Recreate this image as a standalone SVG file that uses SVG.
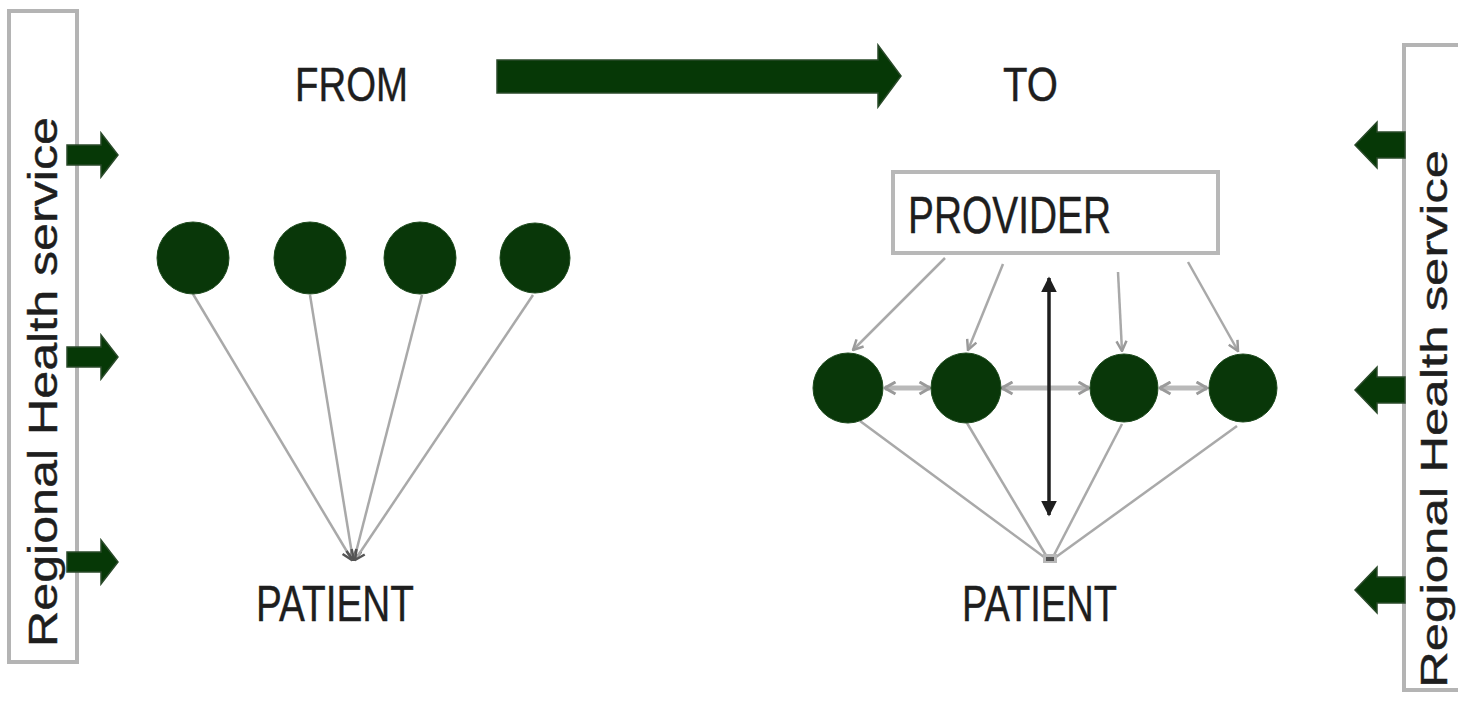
<svg xmlns="http://www.w3.org/2000/svg" width="1458" height="712" viewBox="0 0 1458 712">
  <style>
    .lbl { font-family: "Liberation Sans", Arial, sans-serif; fill: #1e1e1e; stroke: #1e1e1e; stroke-width: 0.4; }
    .band { fill: #ffffff; stroke: #b4b4b4; stroke-width: 4; }
    .prov { fill: #ffffff; stroke: #b8b8b8; stroke-width: 4; }
    .dot { fill: #093709; stroke: #1e4a1e; stroke-width: 1; }
    .fat { fill: #063806; stroke: #2a4a2a; stroke-width: 1.5; }
    .link { stroke: #a9a9a9; stroke-width: 2.5; fill: none; }
    .peer { stroke: #b9b9b9; stroke-width: 5; fill: none; }
    .axis { stroke: #1e1e1e; stroke-width: 3.5; fill: none; }
  </style>
  <defs>
    <marker id="chev" viewBox="0 0 10 10" refX="9" refY="5" markerWidth="5" markerHeight="5" orient="auto-start-reverse" markerUnits="strokeWidth">
      <path d="M1,1 L9,5 L1,9" fill="none" stroke="#9a9a9a" stroke-width="2"/>
    </marker>
    <marker id="sink" viewBox="0 0 10 10" refX="9" refY="5" markerWidth="5" markerHeight="5" orient="auto" markerUnits="strokeWidth">
      <path d="M1,1 L9,5 L1,9" fill="none" stroke="#555" stroke-width="2"/>
    </marker>
    <marker id="peerhead" viewBox="0 0 10 10" refX="9" refY="5" markerWidth="3" markerHeight="3" orient="auto-start-reverse" markerUnits="strokeWidth">
      <path d="M2,1 L9,5 L2,9" fill="none" stroke="#9a9a9a" stroke-width="2"/>
    </marker>
    <marker id="tri" viewBox="0 0 10 10" refX="9" refY="5" markerWidth="4.5" markerHeight="4.5" orient="auto-start-reverse" markerUnits="strokeWidth">
      <path d="M0,0 L10,5 L0,10 Z" fill="#1e1e1e"/>
    </marker>
  </defs>

  <rect width="1458" height="712" fill="#ffffff"/>

  <!-- left regional health band -->
  <g id="band-left">
    <rect class="band" x="9" y="11" width="68" height="651"/>
    <text class="lbl" font-size="40" transform="translate(57,647) rotate(-90)" textLength="530" lengthAdjust="spacingAndGlyphs">Regional Health service</text>
  </g>

  <!-- right regional health band -->
  <g id="band-right">
    <rect class="band" x="1404" y="45" width="80" height="645"/>
    <text class="lbl" font-size="37" transform="translate(1447,688) rotate(-90)" textLength="538" lengthAdjust="spacingAndGlyphs">Regional Health service</text>
  </g>

  <!-- headings -->
  <g id="from">
    <text class="lbl" x="295" y="101" font-size="49" textLength="113" lengthAdjust="spacingAndGlyphs">FROM</text>
  </g>
  <g id="to">
    <text class="lbl" x="1003" y="101" font-size="49" textLength="55" lengthAdjust="spacingAndGlyphs">TO</text>
  </g>
  <g id="shift-arrow">
    <path class="fat" d="M497,60 H878 V45 L901,76 L878,107 V93 H497 Z"/>
  </g>

  <!-- inflow arrows from the regional health service -->
  <g id="inflow-left">
    <path class="fat" d="M67,145 H101 V133 L118,155 L101,177 V165 H67 Z"/>
    <path class="fat" d="M67,347 H101 V335 L118,357 L101,379 V367 H67 Z"/>
    <path class="fat" d="M67,552 H101 V540 L118,562 L101,584 V572 H67 Z"/>
  </g>
  <g id="inflow-right">
    <path class="fat" d="M1405,132 H1377 V122 L1355,145 L1377,168 V158 H1405 Z"/>
    <path class="fat" d="M1405,377 H1377 V367 L1355,390 L1377,413 V403 H1405 Z"/>
    <path class="fat" d="M1405,577 H1377 V567 L1355,590 L1377,613 V603 H1405 Z"/>
  </g>

  <!-- connectors -->
  <g id="connectors">
    <!-- FROM: each provider links straight to the patient -->
    <line class="link" x1="193" y1="294" x2="352" y2="560" marker-end="url(#sink)"/>
    <line class="link" x1="310" y1="295" x2="353" y2="560" marker-end="url(#sink)"/>
    <line class="link" x1="422" y1="295" x2="354" y2="560" marker-end="url(#sink)"/>
    <line class="link" x1="533" y1="295" x2="355" y2="560" marker-end="url(#sink)"/>

    <!-- TO: provider feeds each team member -->
    <line class="link" x1="945" y1="258" x2="853" y2="350" marker-end="url(#chev)"/>
    <line class="link" x1="1003" y1="264" x2="968" y2="350" marker-end="url(#chev)"/>
    <line class="link" x1="1118" y1="272" x2="1122" y2="351" marker-end="url(#chev)"/>
    <line class="link" x1="1188" y1="262" x2="1238" y2="351" marker-end="url(#chev)"/>

    <!-- team members link with one another -->
    <line class="peer" x1="885" y1="388" x2="930" y2="388" marker-start="url(#peerhead)" marker-end="url(#peerhead)"/>
    <line class="peer" x1="1002" y1="388" x2="1089" y2="388" marker-start="url(#peerhead)" marker-end="url(#peerhead)"/>
    <line class="peer" x1="1160" y1="388" x2="1207" y2="388" marker-start="url(#peerhead)" marker-end="url(#peerhead)"/>

    <!-- team members to patient -->
    <line class="link" x1="860" y1="421" x2="1044" y2="557"/>
    <line class="link" x1="967" y1="423" x2="1047" y2="557"/>
    <line class="link" x1="1122" y1="424" x2="1053" y2="557"/>
    <line class="link" x1="1237" y1="426" x2="1056" y2="557"/>
    <rect x="1043" y="554" width="14" height="9" fill="#b8b8b8"/>
    <rect x="1046" y="557" width="8" height="4" fill="#555"/>

    <!-- provider and patient linked both ways -->
    <line class="axis" x1="1049" y1="278" x2="1049" y2="515" marker-start="url(#tri)" marker-end="url(#tri)"/>
  </g>

  <!-- FROM side: isolated providers -->
  <g id="from-provider-1"><circle class="dot" cx="193" cy="258" r="36"/></g>
  <g id="from-provider-2"><circle class="dot" cx="310" cy="258" r="36"/></g>
  <g id="from-provider-3"><circle class="dot" cx="420" cy="258" r="36"/></g>
  <g id="from-provider-4"><circle class="dot" cx="535" cy="258" r="35"/></g>
  <g id="from-patient">
    <text class="lbl" x="256" y="621" font-size="50" textLength="158" lengthAdjust="spacingAndGlyphs">PATIENT</text>
  </g>

  <!-- TO side: coordinated team -->
  <g id="provider">
    <rect class="prov" x="893" y="172" width="325" height="81"/>
    <text class="lbl" x="908" y="233" font-size="51" textLength="203" lengthAdjust="spacingAndGlyphs">PROVIDER</text>
  </g>
  <g id="to-member-1"><circle class="dot" cx="848" cy="388" r="35"/></g>
  <g id="to-member-2"><circle class="dot" cx="966" cy="388" r="35"/></g>
  <g id="to-member-3"><circle class="dot" cx="1124" cy="388" r="34"/></g>
  <g id="to-member-4"><circle class="dot" cx="1243" cy="388" r="34"/></g>
  <g id="to-patient">
    <text class="lbl" x="962" y="621" font-size="50" textLength="155" lengthAdjust="spacingAndGlyphs">PATIENT</text>
  </g>
</svg>
